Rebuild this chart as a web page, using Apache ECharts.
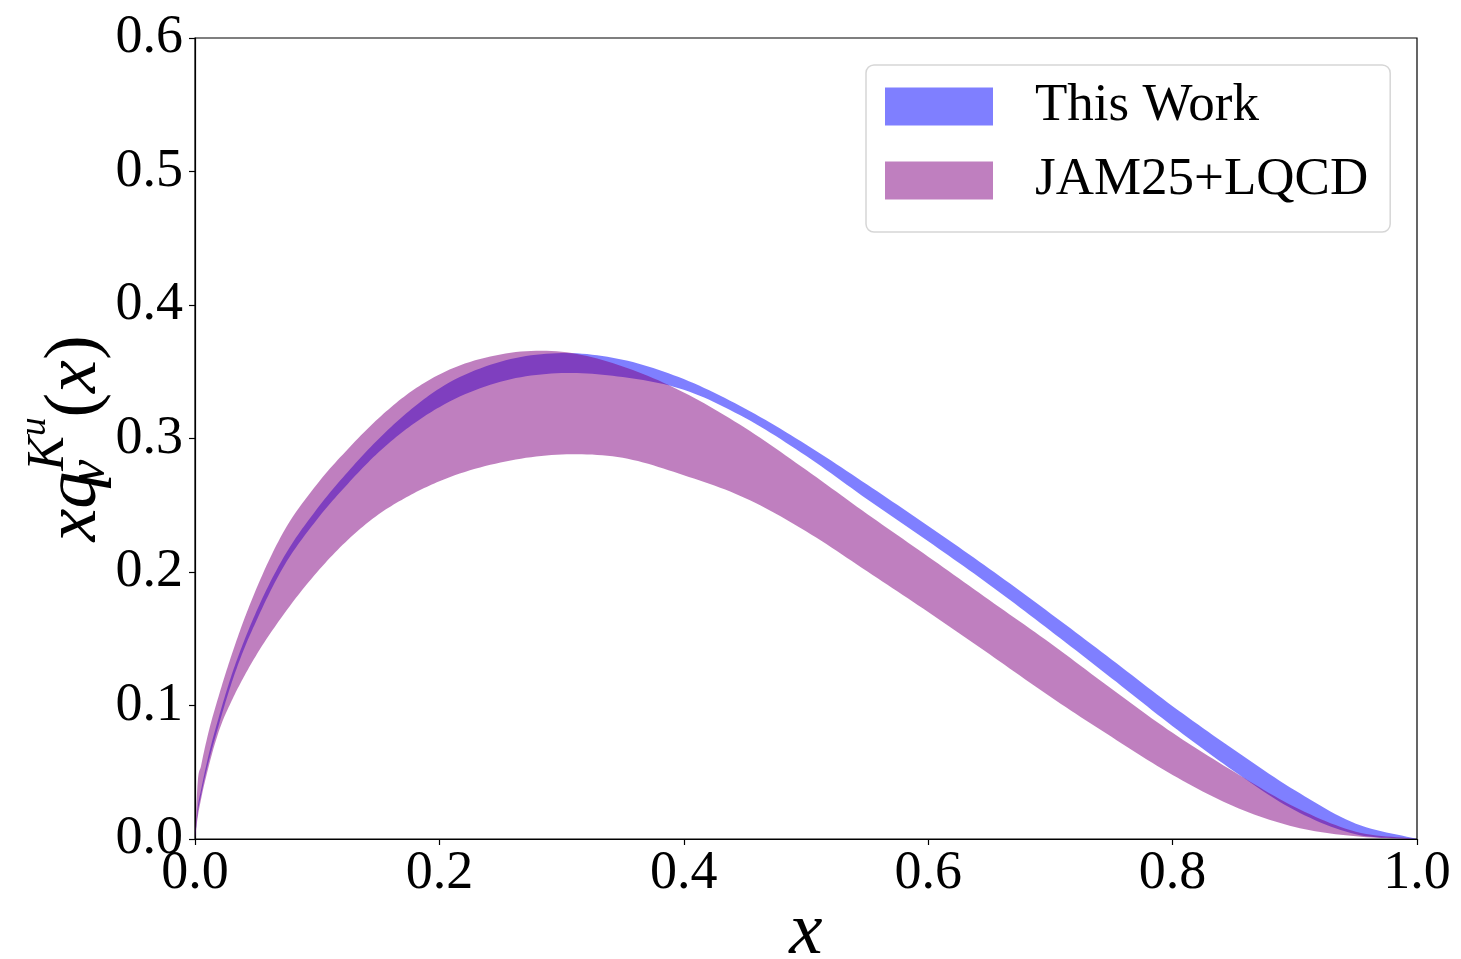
<!DOCTYPE html>
<html><head><meta charset="utf-8">
<script src="https://cdn.jsdelivr.net/npm/echarts@6/dist/echarts.min.js"></script>
<style>html,body{margin:0;padding:0;background:#fff}#c{width:1461px;height:959px}</style>
</head><body><div id="c"></div>
<script>
// x grid (momentum fraction)
const xs = [0, 0.002, 0.005, 0.01, 0.02, 0.03, 0.04, 0.05, 0.07, 0.1, 0.125, 0.15, 0.175, 0.2, 0.25, 0.3, 0.35, 0.4, 0.45, 0.5, 0.55, 0.6, 0.65, 0.7, 0.75, 0.8, 0.85, 0.9, 0.95, 1.0];
// "This Work" band
const thisWorkLower = [0, 0.018, 0.033, 0.0535, 0.087, 0.117, 0.142, 0.163, 0.200, 0.2395, 0.266, 0.2895, 0.3085, 0.3235, 0.3425, 0.349, 0.346, 0.3365, 0.3155, 0.287, 0.2545, 0.223, 0.1905, 0.156, 0.1205, 0.0845, 0.051, 0.0215, 0.0035, 0];
const thisWorkUpper = [0, 0.022, 0.037, 0.0585, 0.093, 0.123, 0.148, 0.170, 0.207, 0.2475, 0.275, 0.2995, 0.3205, 0.3375, 0.3575, 0.364, 0.359, 0.3445, 0.3225, 0.2955, 0.2655, 0.2345, 0.2025, 0.169, 0.1345, 0.0995, 0.067, 0.0365, 0.0115, 0];
// "JAM25+LQCD" band
const jamLower = [0, 0.015, 0.030, 0.050, 0.082, 0.1035, 0.1215, 0.1375, 0.165, 0.200, 0.224, 0.243, 0.257, 0.268, 0.282, 0.288, 0.2855, 0.2725, 0.2555, 0.2305, 0.2005, 0.170, 0.1385, 0.1065, 0.0765, 0.048, 0.0245, 0.009, 0.002, 0];
const jamUpper = [0, 0.040, 0.055, 0.076, 0.109, 0.138, 0.164, 0.187, 0.226, 0.266, 0.292, 0.315, 0.334, 0.348, 0.363, 0.365, 0.354, 0.3345, 0.308, 0.2765, 0.2435, 0.2115, 0.179, 0.1466, 0.1125, 0.0795, 0.0505, 0.024, 0.0055, 0];
const seriesNames = ['This Work', 'JAM25+LQCD'];

const FONT = "'Liberation Serif', 'Times New Roman', serif";

// smooth cubic Hermite curve through the read points (rendering only)
function smoothEdge(X, Y, steps) {
  const n = X.length, d = [], m = [];
  for (let i = 0; i < n - 1; i++) d.push((Y[i + 1] - Y[i]) / (X[i + 1] - X[i]));
  m[0] = d[0]; m[n - 1] = d[n - 2];
  for (let i = 1; i < n - 1; i++) {
    const h0 = X[i] - X[i - 1], h1 = X[i + 1] - X[i];
    m[i] = (h1 * d[i - 1] + h0 * d[i]) / (h0 + h1);
  }
  const out = [];
  for (let i = 0; i < n - 1; i++) {
    const h = X[i + 1] - X[i];
    for (let k = 0; k < steps; k++) {
      const t = k / steps, t2 = t * t, t3 = t2 * t;
      const y = (2 * t3 - 3 * t2 + 1) * Y[i] + (t3 - 2 * t2 + t) * h * m[i] + (-2 * t3 + 3 * t2) * Y[i + 1] + (t3 - t2) * h * m[i + 1];
      out.push([X[i] + t * h, y]);
    }
  }
  out.push([X[n - 1], Y[n - 1]]);
  return out;
}

function band(name, lo, hi, color) {
  return {
    name: name, type: 'custom', coordinateSystem: 'cartesian2d',
    data: xs.map((x, i) => [x, lo[i], hi[i]]),
    encode: { x: 0, y: [1, 2] },
    itemStyle: { color: color },
    silent: true,
    renderItem: function (params, api) {
      if (params.dataIndex !== 0) return null;
      const up = smoothEdge(xs, hi, 12);
      const dn = smoothEdge(xs, lo, 12);
      const pts = [];
      for (let i = 0; i < up.length; i++) pts.push(api.coord(up[i]));
      for (let i = dn.length - 2; i >= 1; i--) pts.push(api.coord(dn[i]));
      return { type: 'polygon', shape: { points: pts }, style: { fill: color } };
    }
  };
}

const chart = echarts.init(document.getElementById('c'), null, { renderer: 'canvas' });
chart.setOption({
  animation: false,
  backgroundColor: '#ffffff',
  textStyle: { fontFamily: FONT },
  grid: { left: 195, right: 44, top: 38, bottom: 120, containLabel: false, outerBoundsMode: 'none',
          show: true, borderColor: '#000', borderWidth: 1.2, backgroundColor: 'transparent' },
  xAxis: {
    type: 'value', min: 0, max: 1, interval: 0.2,
    name: 'x', nameLocation: 'middle', nameGap: 57, nameMoveOverlap: false,
    nameTextStyle: { fontFamily: FONT, fontStyle: 'italic', fontSize: 75, color: '#000', lineHeight: 75 },
    axisLine: { show: true, lineStyle: { color: '#000', width: 1.2 } },
    axisTick: { show: true, inside: false, length: 6, lineStyle: { color: '#000', width: 1.2 } },
    axisLabel: { fontFamily: FONT, fontSize: 54, color: '#000', margin: 8, formatter: v => v.toFixed(1) },
    splitLine: { show: false }
  },
  yAxis: {
    type: 'value', min: 0, max: 0.6, interval: 0.1,
    name: '{it|xq}{sub|v}{sup|K}{sup2|u}{rm|(}{it|x}{rm|)}',
    nameLocation: 'middle', nameRotate: 90, nameGap: 80, nameMoveOverlap: false,
    nameTextStyle: {
      color: '#000', fontFamily: FONT,
      rich: {
        it: { fontFamily: FONT, fontStyle: 'italic', fontSize: 74, verticalAlign: 'top', padding: [22, 0, 0, 0], color: '#000' },
        rm: { fontFamily: FONT, fontSize: 74, verticalAlign: 'top', padding: [22, 0, 0, 0], color: '#000' },
        sub: { fontFamily: FONT, fontStyle: 'italic', fontSize: 52, verticalAlign: 'top', padding: [46, 0, 0, 0], width: 1, color: '#000' },
        sup: { fontFamily: FONT, fontStyle: 'italic', fontSize: 52, verticalAlign: 'top', padding: [6, 0, 0, 0], color: '#000' },
        sup2: { fontFamily: FONT, fontStyle: 'italic', fontSize: 37, verticalAlign: 'top', padding: [0, 0, 0, 0], color: '#000' }
      }
    },
    axisLine: { show: true, lineStyle: { color: '#000', width: 1.2 } },
    axisTick: { show: true, inside: false, length: 6, lineStyle: { color: '#000', width: 1.2 } },
    axisLabel: { fontFamily: FONT, fontSize: 54, color: '#000', margin: 12, formatter: v => v.toFixed(1) },
    splitLine: { show: false }
  },
  legend: {
    data: seriesNames, orient: 'vertical', left: 866, top: 65,
    icon: 'rect', itemWidth: 108, itemHeight: 38, itemGap: 21,
    padding: [15, 22, 25, 19],
    backgroundColor: '#fff', borderColor: '#d6d6d6', borderWidth: 1.5, borderRadius: 8,
    itemStyle: { borderWidth: 0 },
    textStyle: { fontFamily: FONT, fontSize: 53, color: '#000', lineHeight: 50, padding: [0, 0, 0, 37] },
    selectedMode: false
  },
  series: [
    band(seriesNames[0], thisWorkLower, thisWorkUpper, 'rgba(0,0,255,0.5)'),
    band(seriesNames[1], jamLower, jamUpper, 'rgba(128,0,128,0.5)')
  ]
});
</script></body></html>
